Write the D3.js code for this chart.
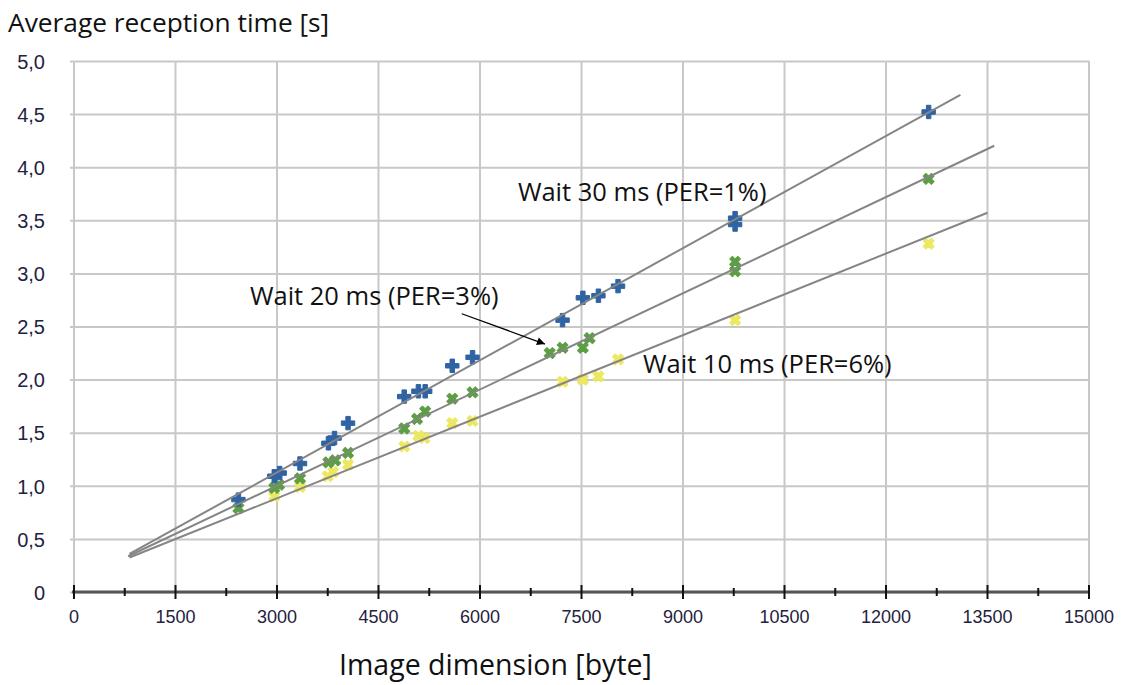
<!DOCTYPE html>
<html>
<head>
<meta charset="utf-8">
<script src="https://cdn.jsdelivr.net/npm/d3@7"></script>
<style>
	body { margin: 0; background: #fff; }
	svg { display: block; }
</style>
</head>
<body>
<div id="chart"></div>
<script>
// image size [byte] / average reception time [s]
const blueX = [2430, 2960, 3040, 3340, 3760, 3850, 4050, 4880, 5090, 5190, 5590, 5890, 7220, 7520, 7750, 8040, 9770, 9770, 12630];
const blueY = [0.87, 1.09, 1.12, 1.21, 1.40, 1.45, 1.59, 1.84, 1.89, 1.89, 2.13, 2.21, 2.56, 2.77, 2.79, 2.88, 3.52, 3.46, 4.52];

const greenX = [2430, 2960, 3030, 3340, 3760, 3860, 4050, 4880, 5070, 5190, 5590, 5890, 7030, 7220, 7520, 7620, 9770, 9770, 12630];
const greenY = [0.79, 0.98, 1.01, 1.07, 1.22, 1.24, 1.31, 1.54, 1.63, 1.70, 1.82, 1.88, 2.25, 2.30, 2.30, 2.39, 3.11, 3.02, 3.89];

const yellowX = [2960, 3340, 3750, 3830, 4050, 4880, 5090, 5180, 5590, 5890, 7220, 7520, 7750, 8040, 9770, 12630];
const yellowY = [0.90, 0.99, 1.09, 1.13, 1.20, 1.37, 1.47, 1.45, 1.59, 1.61, 1.98, 2.00, 2.03, 2.19, 2.56, 3.28];

// linear trend lines (slope per byte, intercept) and their x range
const trendSlope = [3.52e-4, 3.02e-4, 2.56e-4];
const trendIntercept = [0.07, 0.095, 0.115];
const trendStart = [820, 800, 820];
const trendEnd = [13100, 13600, 13500];

const labels = ['Wait 30 ms (PER=1%)', 'Wait 20 ms (PER=3%)', 'Wait 10 ms (PER=6%)'];
const labelX = [6560, 2600, 8410];
const labelY = [3.68, 2.70, 2.06];

const arrowFrom = [5730, 2.62];
const arrowTo = [6960, 2.335];

const xTicks = d3.range(0, 15001, 1500);
const xMinorTicks = d3.range(750, 15000, 1500);
const yTicks = d3.range(0, 5.01, 0.5);

const width = 1122, height = 685;

const svg = d3.select('#chart').append('svg')
	.attr('width', width)
	.attr('height', height);

const x = d3.scaleLinear().domain([0, 15000]).range([74, 1089]);
const y = d3.scaleLinear().domain([0, 5]).range([592, 61]);

const gridColor = '#c8c8c8';
const tickFont = '"Liberation Sans", Arial, sans-serif';
const textFont = '"Open Sans", Carlito, Lato, sans-serif';

// horizontal grid (with short outer ticks on the left)
svg.append('g')
	.attr('transform', `translate(${x(0)},0)`)
	.call(d3.axisLeft(y).tickValues(yTicks).tickSize(-(x(15000) - x(0)) - 4).tickSizeOuter(0)
		.tickFormat(d => d === 0 ? '0' : d3.format('.1f')(d).replace('.', ',')))
	.call(g => g.select('.domain').remove())
	.call(g => g.selectAll('.tick line')
		.attr('x1', -4)
		.attr('x2', x(15000) - x(0))
		.attr('stroke', gridColor)
		.attr('stroke-width', 2))
	.call(g => g.selectAll('.tick text')
		.attr('x', -29)
		.attr('dy', '0.36em')
		.attr('fill', '#1f2240')
		.style('font-family', tickFont)
		.style('font-size', '20px'));

// vertical grid
svg.append('g')
	.selectAll('line')
	.data(xTicks)
	.enter().append('line')
	.attr('x1', d => x(d))
	.attr('x2', d => x(d))
	.attr('y1', y(5))
	.attr('y2', y(0))
	.attr('stroke', gridColor)
	.attr('stroke-width', 2);

// x axis line with major and minor ticks
const xAxis = svg.append('g').attr('transform', `translate(0,${y(0)})`);
xAxis.append('line')
	.attr('x1', x(0) - 2)
	.attr('x2', x(15000) + 1)
	.attr('stroke', '#555')
	.attr('stroke-width', 3);
xAxis.selectAll('.major')
	.data(xTicks)
	.enter().append('line')
	.attr('class', 'major')
	.attr('x1', d => x(d))
	.attr('x2', d => x(d))
	.attr('y1', -7)
	.attr('y2', 7)
	.attr('stroke', '#111')
	.attr('stroke-width', 2);
xAxis.selectAll('.minor')
	.data(xMinorTicks)
	.enter().append('line')
	.attr('class', 'minor')
	.attr('x1', d => x(d))
	.attr('x2', d => x(d))
	.attr('y1', -4)
	.attr('y2', 4)
	.attr('stroke', '#111')
	.attr('stroke-width', 2);
xAxis.selectAll('text')
	.data(xTicks)
	.enter().append('text')
	.attr('x', d => x(d))
	.attr('y', 18)
	.attr('dy', '0.71em')
	.attr('text-anchor', 'middle')
	.attr('fill', '#1f2240')
	.style('font-family', tickFont)
	.style('font-size', '18px')
	.text(d => d);

// markers
const series = [
	{ xs: blueX, ys: blueY, color: '#2f63a4', type: 'plus' },
	{ xs: greenX, ys: greenY, color: '#5c9e44', type: 'x' },
	{ xs: yellowX, ys: yellowY, color: '#ece860', type: 'x' }
];

const plus = d3.symbol().type(d3.symbolCross).size(100);
const cross = d3.symbol().type(d3.symbolCross).size(75);

series.slice().reverse().forEach(s => {
	svg.append('g')
		.selectAll('path')
		.data(d3.range(s.xs.length))
		.enter().append('path')
		.attr('d', s.type === 'plus' ? plus() : cross())
		.attr('transform', i => `translate(${x(s.xs[i])},${y(s.ys[i])})` + (s.type === 'x' ? ' rotate(45)' : ''))
		.attr('fill', s.color)
		.attr('stroke', s.color)
		.attr('stroke-width', 1)
		.attr('stroke-linejoin', 'round');
});

// trend lines
svg.append('g')
	.selectAll('line')
	.data(d3.range(trendSlope.length))
	.enter().append('line')
	.attr('x1', i => x(trendStart[i]))
	.attr('y1', i => y(trendIntercept[i] + trendSlope[i] * trendStart[i]))
	.attr('x2', i => x(trendEnd[i]))
	.attr('y2', i => y(trendIntercept[i] + trendSlope[i] * trendEnd[i]))
	.attr('stroke', '#858585')
	.attr('stroke-width', 2);

// annotations
svg.append('g')
	.selectAll('text')
	.data(labels)
	.enter().append('text')
	.attr('x', (d, i) => x(labelX[i]))
	.attr('y', (d, i) => y(labelY[i]))
	.attr('fill', '#111')
	.style('font-family', textFont)
	.style('font-size', '25.5px')
	.text(d => d);

svg.append('defs').append('marker')
	.attr('id', 'arrowhead')
	.attr('viewBox', '0 0 10 10')
	.attr('refX', 10)
	.attr('refY', 5)
	.attr('markerWidth', 10)
	.attr('markerHeight', 8)
	.attr('markerUnits', 'userSpaceOnUse')
	.attr('orient', 'auto')
	.append('path')
	.attr('d', 'M0,0L10,5L0,10Z')
	.attr('fill', '#000');

svg.append('line')
	.attr('x1', x(arrowFrom[0]))
	.attr('y1', y(arrowFrom[1]))
	.attr('x2', x(arrowTo[0]))
	.attr('y2', y(arrowTo[1]))
	.attr('stroke', '#000')
	.attr('stroke-width', 1.3)
	.attr('marker-end', 'url(#arrowhead)');

// axis titles
svg.append('text')
	.attr('x', 8)
	.attr('y', 32)
	.attr('fill', '#111')
	.style('font-family', textFont)
	.style('font-size', '26.3px')
	.text('Average reception time [s]');

svg.append('text')
	.attr('x', 339)
	.attr('y', 675)
	.attr('fill', '#111')
	.style('font-family', textFont)
	.style('font-size', '28.5px')
	.text('Image dimension [byte]');
</script>
</body>
</html>
